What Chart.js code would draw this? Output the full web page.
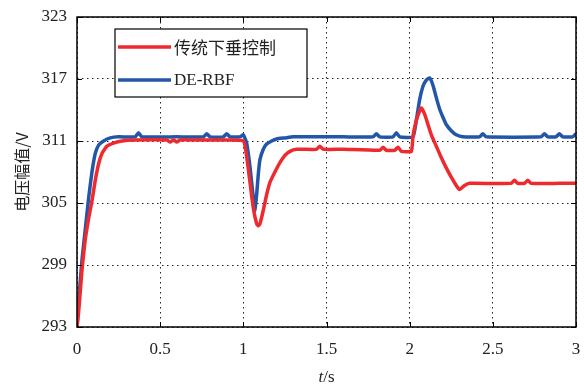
<!DOCTYPE html>
<html>
<head>
<meta charset="utf-8">
<script src="https://cdn.jsdelivr.net/npm/chart.js@4/dist/chart.umd.min.js"></script>
<style>
  html, body { margin: 0; padding: 0; background: #fff; }
  #wrap { width: 584px; height: 387px; }
</style>
</head>
<body>
<div id="wrap"><canvas id="chart" width="584" height="387"></canvas></div>
<script>
// traditional droop control
const redTime = [0, 0.01, 0.02, 0.03, 0.05, 0.07, 0.09, 0.11, 0.13, 0.15, 0.18, 0.22, 0.27, 0.35, 0.54, 0.56, 0.58, 0.6, 0.62, 0.7, 0.9, 1.0,
  1.02, 1.04, 1.06, 1.08, 1.09, 1.1, 1.12, 1.14, 1.16, 1.19, 1.22, 1.25, 1.28, 1.32, 1.44, 1.46, 1.48, 1.6, 1.82, 1.84, 1.86, 1.91, 1.93, 1.95, 2.01,
  2.02, 2.04, 2.06, 2.07, 2.09, 2.11, 2.13, 2.16, 2.19, 2.22, 2.25, 2.28, 2.3, 2.33, 2.36, 2.61, 2.63, 2.65, 2.69, 2.71, 2.73, 2.9, 3.0]
const redVolt = [293.0, 294.5, 296.5, 298.5, 301.5, 303.5, 305.2, 307.2, 308.8, 309.8, 310.5, 310.8, 311.0, 311.1, 311.1, 310.9, 311.1, 310.9, 311.1, 311.1, 311.1, 311.0,
  309.5, 307.0, 304.5, 303.0, 302.8, 303.0, 304.3, 305.8, 307.0, 308.0, 308.9, 309.6, 310.0, 310.2, 310.2, 310.5, 310.2, 310.2, 310.1, 310.4, 310.1, 310.1, 310.4, 310.0, 310.0,
  311.5, 313.0, 313.9, 314.2, 313.6, 312.6, 311.6, 310.5, 309.4, 308.4, 307.5, 306.7, 306.3, 306.7, 306.9, 306.9, 307.2, 306.9, 306.9, 307.2, 306.9, 306.9, 306.9]

// DE-RBF
const blueTime = [0, 0.01, 0.02, 0.03, 0.05, 0.07, 0.09, 0.11, 0.13, 0.16, 0.2, 0.25, 0.35, 0.37, 0.39, 0.6, 0.76, 0.78, 0.8, 0.88, 0.9, 0.92, 0.98, 1.0,
  1.02, 1.04, 1.06, 1.07, 1.08, 1.09, 1.1, 1.12, 1.14, 1.17, 1.2, 1.25, 1.3, 1.6, 1.78, 1.8, 1.82, 1.9, 1.92, 1.94, 2.02,
  2.04, 2.06, 2.08, 2.1, 2.12, 2.14, 2.16, 2.18, 2.2, 2.22, 2.25, 2.28, 2.32, 2.42, 2.44, 2.46, 2.79, 2.81, 2.83, 2.88, 2.9, 2.92, 2.98, 3.0]
const blueVolt = [293.0, 295.5, 297.5, 299.5, 302.5, 305.5, 308.0, 309.8, 310.6, 311.0, 311.3, 311.4, 311.4, 311.8, 311.4, 311.4, 311.4, 311.7, 311.4, 311.4, 311.7, 311.4, 311.4, 311.6,
  310.8, 308.5, 305.5, 304.3, 305.8, 307.8, 309.2, 310.2, 310.7, 311.0, 311.2, 311.3, 311.4, 311.4, 311.4, 311.7, 311.4, 311.4, 311.8, 311.4, 311.4,
  313.0, 315.0, 316.3, 316.9, 317.1, 316.4, 315.2, 314.1, 313.3, 312.6, 312.0, 311.6, 311.4, 311.4, 311.7, 311.4, 311.4, 311.7, 311.4, 311.4, 311.7, 311.4, 311.4, 311.7]

const seriesNames = ['传统下垂控制', 'DE-RBF']
const seriesColors = ['#ee2a2e', '#2356a8']

const xTicks = [0, 0.5, 1, 1.5, 2, 2.5, 3]
const yTicks = [293, 299, 305, 311, 317, 323]

const toPoints = (times, values) => times.map((t, i) => ({ x: t, y: values[i] }))

const serif = '"Liberation Serif", "Times New Roman", serif'

// inward ticks, frame, legend and axis titles
const decorPlugin = {
  id: 'decor',
  afterDraw(chart) {
    const { ctx, chartArea: a, scales } = chart
    ctx.save()
    ctx.strokeStyle = '#000'
    ctx.lineWidth = 1
    ctx.setLineDash([])
    ctx.beginPath()
    xTicks.forEach(v => {
      const px = Math.round(scales.x.getPixelForValue(v)) + 0.5
      ctx.moveTo(px, a.bottom); ctx.lineTo(px, a.bottom - 5)
      ctx.moveTo(px, a.top); ctx.lineTo(px, a.top + 5)
    })
    yTicks.forEach(v => {
      const py = Math.round(scales.y.getPixelForValue(v)) + 0.5
      ctx.moveTo(a.left, py); ctx.lineTo(a.left + 5, py)
      ctx.moveTo(a.right, py); ctx.lineTo(a.right - 5, py)
    })
    ctx.stroke()
    ctx.lineWidth = 1.5
    ctx.strokeRect(a.left, a.top, a.right - a.left, a.bottom - a.top)

    // legend
    const lx = a.left + 38, ly = a.top + 12, lw = 192, lh = 68
    ctx.fillStyle = '#fff'
    ctx.fillRect(lx, ly, lw, lh)
    ctx.lineWidth = 1.2
    ctx.strokeRect(lx, ly, lw, lh)
    seriesNames.forEach((name, i) => {
      const y = ly + 18 + i * 33
      ctx.strokeStyle = seriesColors[i]
      ctx.lineWidth = 3.5
      ctx.beginPath()
      ctx.moveTo(lx + 3, y); ctx.lineTo(lx + 56, y)
      ctx.stroke()
      ctx.fillStyle = '#222'
      ctx.font = i === 0 ? '17px "Noto Sans CJK SC", sans-serif' : '17px ' + serif
      ctx.textBaseline = 'middle'
      ctx.textAlign = 'left'
      ctx.fillText(name, lx + 59, y + 1)
    })

    // x title: italic t + /s
    ctx.fillStyle = '#222'
    ctx.textBaseline = 'middle'
    ctx.textAlign = 'left'
    const cx = (a.left + a.right) / 2
    ctx.font = 'italic 17px ' + serif
    const tw = ctx.measureText('t').width
    ctx.font = '17px ' + serif
    const sw = ctx.measureText('/s').width
    const start = cx - (tw + sw) / 2
    ctx.font = 'italic 17px ' + serif
    ctx.fillText('t', start, 378)
    ctx.font = '17px ' + serif
    ctx.fillText('/s', start + tw, 378)

    // y title
    ctx.translate(22, (a.top + a.bottom) / 2)
    ctx.rotate(-Math.PI / 2)
    ctx.textAlign = 'center'
    ctx.font = '16px "Noto Sans CJK SC", ' + serif
    ctx.fillText('电压幅值/V', 0, 0)
    ctx.restore()
  }
}

new Chart(document.getElementById('chart'), {
  type: 'line',
  data: {
    datasets: [
      { label: seriesNames[0], data: toPoints(redTime, redVolt), borderColor: seriesColors[0], borderWidth: 3.5, pointRadius: 0, tension: 0.15 },
      { label: seriesNames[1], data: toPoints(blueTime, blueVolt), borderColor: seriesColors[1], borderWidth: 3.5, pointRadius: 0, tension: 0.15 }
    ]
  },
  options: {
    responsive: false,
    animation: false,
    layout: { padding: { top: 17, right: 8, left: 0, bottom: 0 } },
    plugins: { legend: { display: false }, tooltip: { enabled: false } },
    scales: {
      x: {
        type: 'linear', min: 0, max: 3,
        afterBuildTicks: s => { s.ticks = xTicks.map(v => ({ value: v })) },
        afterFit: s => { s.height = 60; s.paddingLeft = 0; s.paddingRight = 0 },
        ticks: { color: '#222', font: { family: serif, size: 17 }, padding: 12, callback: v => String(v) },
        grid: { color: '#222', lineWidth: 1, drawTicks: false },
        border: { display: false, dash: [1.5, 3.5] }
      },
      y: {
        min: 293, max: 323,
        afterBuildTicks: s => { s.ticks = yTicks.map(v => ({ value: v })) },
        afterFit: s => { s.width = 77; s.paddingTop = 0; s.paddingBottom = 0 },
        ticks: { color: '#222', font: { family: serif, size: 17 }, padding: 10 },
        grid: { color: '#222', lineWidth: 1, drawTicks: false },
        border: { display: false, dash: [1.5, 3.5] }
      }
    }
  },
  plugins: [decorPlugin]
})
</script>
</body>
</html>
